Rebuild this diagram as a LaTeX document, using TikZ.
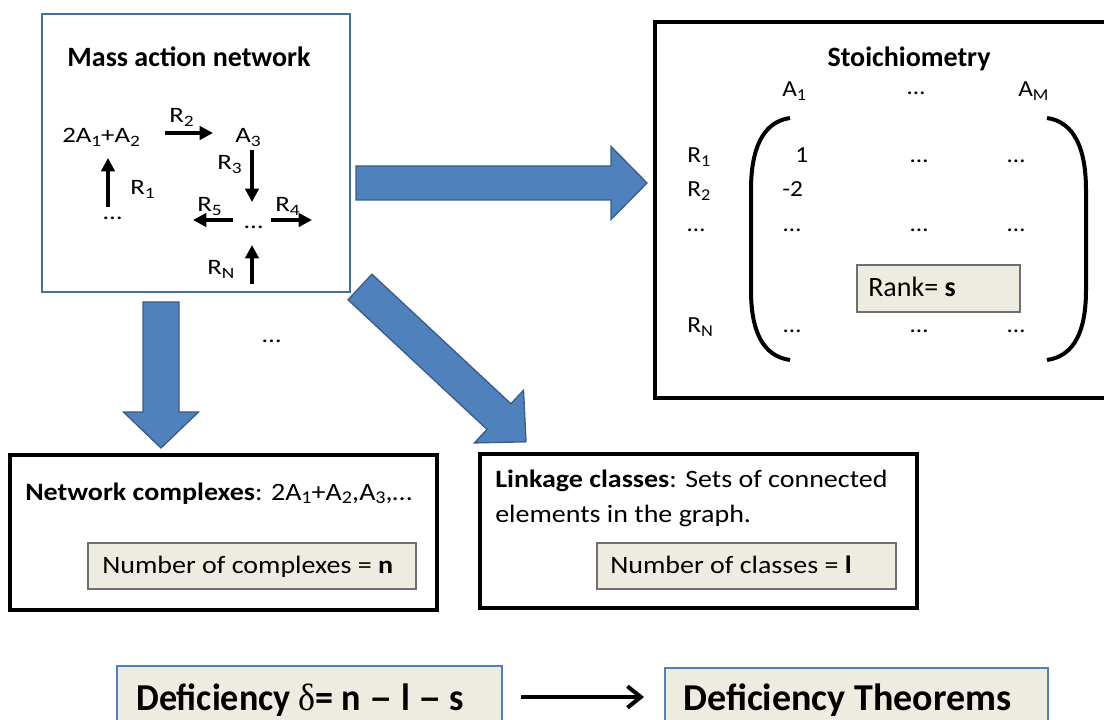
\documentclass[tikz,border=0pt]{standalone}
\usepackage{fontspec}
\usepackage{graphicx}
\setmainfont{Carlito}
\newfontfamily\deltafont{Liberation Serif}
\usetikzlibrary{arrows.meta}
\definecolor{bfill}{HTML}{4F81BD}
\definecolor{bedge}{HTML}{385D8A}
\definecolor{netblue}{HTML}{41719C}
\definecolor{tanfill}{HTML}{EEECE1}
\definecolor{tanedge}{HTML}{6F6F6F}
\newcommand{\hs}[2]{\scalebox{#1}[1]{#2}}
\newcommand{\sbs}[1]{\raisebox{-0.3ex}{\scalebox{0.72}{#1}}}
\newcommand{\longdash}{\scalebox{1.3}[1]{–}}
\tikzset{
  txt/.style={inner sep=0pt, anchor=base west},
  nettxt/.style={txt, font=\fontsize{16.5pt}{18pt}\selectfont},
  sttxt/.style={txt, font=\fontsize{17.25pt}{20pt}\selectfont},
  boxtxt/.style={txt, font=\fontsize{18.75pt}{22pt}\selectfont},
  titletxt/.style={inner sep=0pt, anchor=base, font=\fontsize{21pt}{24pt}\selectfont\bfseries},
  bigtxt/.style={txt, font=\fontsize{28.5pt}{32pt}\selectfont\bfseries},
  framebox/.style={draw=black, line width=2.4pt, rectangle, inner sep=0pt},
  tanbox/.style={draw=tanedge, fill=tanfill, line width=1pt, rectangle, inner sep=0pt},
  bottombox/.style={draw=bfill, fill=tanfill, line width=0.9pt, rectangle, inner sep=0pt},
  rarrow/.style={line width=2.6pt, -{Triangle[length=10pt,width=10pt]}},
  blockarrow/.style={fill=bfill, draw=bedge, line width=1pt, line join=miter},
}
\begin{document}
\begin{tikzpicture}[x=0.75pt, y=-0.75pt]
\useasboundingbox (0,0) rectangle (1104,720);

% ---------- boxes ----------
\node[draw=netblue, line width=2.1pt, rectangle, inner sep=0pt,
      minimum width=231pt, minimum height=208.5pt] (net) at (196,153) {};
\node[framebox, minimum width=345pt, minimum height=282pt] (stoich) at (885,210) {};
\node[framebox, line width=2.6pt, minimum width=320.25pt, minimum height=116.25pt] (cplx) at (223.5,532.5) {};
\node[framebox, line width=2.6pt, minimum width=327.75pt, minimum height=115.5pt] (link) at (698.5,531) {};
\node[tanbox, minimum width=246pt, minimum height=34.5pt] (nbox) at (252,566) {};
\node[tanbox, minimum width=224.25pt, minimum height=34.5pt] (lbox) at (746.5,566) {};
\node[tanbox, minimum width=122.25pt, minimum height=35.25pt] (rbox) at (938.5,288.5) {};
\node[bottombox, minimum width=288.75pt, minimum height=55.5pt] (defbox) at (309.5,703) {};
\node[bottombox, minimum width=287.25pt, minimum height=54pt] (thmbox) at (856.5,704) {};

% ---------- mass action network ----------
\node[titletxt] (nettitle) at (189,67) {Mass action network};
\node[nettxt] (c1) at (62,143) {\hs{1.22}{2A\sbs{1}+A\sbs{2}}};
\node[nettxt] (c2) at (235,143) {\hs{1.22}{A\sbs{3}}};
\node[nettxt] (lR2) at (169,123) {\hs{1.22}{R\sbs{2}}};
\node[nettxt] (lR3) at (217,170) {\hs{1.22}{R\sbs{3}}};
\node[nettxt] (lR1) at (130,195) {\hs{1.22}{R\sbs{1}}};
\node[nettxt] (d1) at (103,220) {\hs{1.22}{\dots}};
\node[nettxt] (lR5) at (197,212) {\hs{1.22}{R\sbs{5}}};
\node[nettxt] (d2) at (244,229) {\hs{1.22}{\dots}};
\node[nettxt] (lR4) at (275,212) {\hs{1.22}{R\sbs{4}}};
\node[nettxt] (lRN) at (207,275) {\hs{1.22}{R\sbs{N}}};
\node[nettxt] (d3) at (262,343) {\hs{1.22}{\dots}};

\coordinate (r2a) at (165,133); \coordinate (r2b) at (213,133);
\coordinate (r3a) at (252,150); \coordinate (r3b) at (252,202);
\coordinate (r1a) at (108,207); \coordinate (r1b) at (108,158);
\coordinate (r5a) at (233,220); \coordinate (r5b) at (193,220);
\coordinate (r4a) at (271,220); \coordinate (r4b) at (312,220);
\coordinate (rna) at (252,284); \coordinate (rnb) at (252,245);
\draw[rarrow] (r2a) -- (r2b);
\draw[rarrow] (r3a) -- (r3b);
\draw[rarrow] (r1a) -- (r1b);
\draw[rarrow] (r5a) -- (r5b);
\draw[rarrow] (r4a) -- (r4b);
\draw[rarrow] (rna) -- (rnb);

% ---------- stoichiometry ----------
\node[titletxt] (sttitle) at (909,67) {Stoichiometry};
\node[sttxt] (A1) at (782,97) {\hs{1.1}{A\sbs{1}}};
\node[sttxt] (Ad) at (907,95) {\hs{1.1}{\dots}};
\node[sttxt] (AM) at (1018,97) {\hs{1.1}{A\sbs{M}}};
\node[sttxt] (sR1) at (687,163) {\hs{1.1}{R\sbs{1}}};
\node[sttxt] (sR2) at (687,197) {\hs{1.1}{R\sbs{2}}};
\node[sttxt] (sRd) at (687,232) {\hs{1.1}{\dots}};
\node[sttxt] (sRN) at (687,333) {\hs{1.1}{R\sbs{N}}};
\node[sttxt] (m11) at (795,163) {\hs{1.1}{1}};
\node[sttxt] (m12) at (910,163) {\hs{1.1}{\dots}};
\node[sttxt] (m13) at (1007,163) {\hs{1.1}{\dots}};
\node[sttxt] (m21) at (782,197) {\hs{1.1}{-2}};
\node[sttxt] (m31) at (783,232) {\hs{1.1}{\dots}};
\node[sttxt] (m32) at (910,232) {\hs{1.1}{\dots}};
\node[sttxt] (m33) at (1007,232) {\hs{1.1}{\dots}};
\node[sttxt] (mN1) at (783,333) {\hs{1.1}{\dots}};
\node[sttxt] (mN2) at (910,333) {\hs{1.1}{\dots}};
\node[sttxt] (mN3) at (1007,333) {\hs{1.1}{\dots}};
\node[txt, font=\fontsize{21pt}{24pt}\selectfont] (rank) at (868,297) {Rank= \textbf{s}};
\draw[line width=3pt] (790,118) .. controls (762,122) and (751,150) .. (751,190)
   -- (751,290) .. controls (751,330) and (762,356) .. (790,360);
\draw[line width=3pt] (1047,118) .. controls (1075,122) and (1086,150) .. (1086,190)
   -- (1086,290) .. controls (1086,330) and (1075,356) .. (1047,360);

% ---------- lower boxes ----------
\node[boxtxt] (cplxtxt) at (25,500) {\hs{1.12}{\textbf{Network complexes}: 2A\sbs{1}+A\sbs{2},A\sbs{3},\dots}};
\node[boxtxt] (ntxt) at (102,573) {\hs{1.12}{Number of complexes = \textbf{n}}};
\node[boxtxt] (linktxt) at (495,487) {\hs{1.12}{\textbf{Linkage classes}: Sets of connected}};
\node[boxtxt] (linktxt2) at (495,522) {\hs{1.12}{elements in the graph.}};
\node[boxtxt] (ltxt) at (610,573) {\hs{1.12}{Number of classes = \textbf{l}}};

% ---------- block arrows ----------
\coordinate (ba1) at (356,183);
\begin{scope}[shift={(ba1)}]
  \draw[blockarrow] (0,-17) -- (255,-17) -- (255,-36.5) -- (291,0) -- (255,36.5) -- (255,17) -- (0,17) -- cycle;
\end{scope}
\coordinate (ba2) at (161,302);
\begin{scope}[shift={(ba2)}, rotate=-90]
  \draw[blockarrow] (0,-18) -- (110,-18) -- (110,-37.5) -- (146,0) -- (110,37.5) -- (110,18) -- (0,18) -- cycle;
\end{scope}
\coordinate (ba3) at (360,287);
\begin{scope}[shift={(ba3)}, rotate=-43]
  \draw[blockarrow] (0,-17.5) -- (190,-17.5) -- (190,-36) -- (227,0) -- (190,36) -- (190,17.5) -- (0,17.5) -- cycle;
\end{scope}

% ---------- bottom ----------
\node[bigtxt] (deftxt) at (136,710) {\hs{0.95}{Deficiency {\deltafont\mdseries δ}= n \longdash{} l \longdash{} s}};
\node[bigtxt] (thmtxt) at (683,710) {Deficiency Theorems};
\coordinate (ara) at (521,697); \coordinate (arb) at (644,697);
\draw[line width=3pt, -{Straight Barb[length=10pt,width=16pt]}] (ara) -- (arb);
\end{tikzpicture}
\end{document}
